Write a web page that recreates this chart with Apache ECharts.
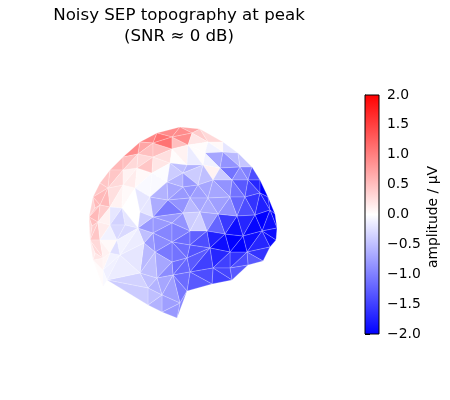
<!DOCTYPE html>
<html>
<head>
<meta charset="utf-8">
<style>html,body{margin:0;padding:0;background:#fff}#chart{width:450px;height:400px}</style>
<script src="https://cdn.jsdelivr.net/npm/echarts@6/dist/echarts.min.js"></script>
</head>
<body>
<div id="chart"></div>
<script>
// Projected head-surface mesh: vertex positions in view units
const vertexX = [89,93,100,110,123,140,157,180,200,223,238,252,260,268,275,277,276,270,263,248,232,212,187,177,162,148,107,103,93,90,
 100,98,100,103,108,123,138,153,172,192,208,110,123,137,153,172,188,205,223,240,248,260,270,
 122,135,152,170,187,203,220,232,245,255,262,110,125,150,167,183,198,213,230,237,243,247,
 117,138,140,168,183,190,208,200,218,183,153,153,190,207,225,172,144,155,120,110,103,140,148,157,172,187,173,162,180,190,210,230,213,230,190,
 172,95,92,95];
const vertexY = [217,197,183,170,157,142,133,127,129,142,153,167,180,197,214,228,240,247,261,265,280,284,291,318,312,305,280,287,260,240,
 205,222,240,258,188,170,154,143,137,133,142,207,185,168,157,149,145,153,152,167,180,193,210,
 208,188,173,163,165,165,168,180,197,215,231,225,225,197,182,173,185,180,197,216,236,252,
 240,228,212,200,187,198,198,212,214,213,217,233,231,231,234,242,243,252,255,253,270,273,288,278,262,258,275,295,303,245,248,252,268,268,272,
 223,208,226,253];

// Triangles of the mesh, as vertex index triples
const faces = [
 [0,1,111],[1,2,34],[1,34,30],[2,3,34],[3,4,35],[3,35,34],[4,5,36],[4,36,35],[5,6,37],[5,37,36],
 [6,7,38],[6,38,37],[7,8,39],[7,39,38],[8,40,39],[8,9,40],[9,48,40],[9,10,48],[10,49,48],[10,11,49],
 [11,50,49],[11,12,50],[12,51,50],[12,13,51],[13,52,51],[13,14,52],[14,15,52],[15,63,52],[15,16,63],[16,17,63],
 [34,41,30],[34,42,41],[34,35,42],[35,43,42],[35,36,43],[36,44,43],[36,37,44],[37,45,44],[37,38,45],[38,46,45],
 [38,39,46],[39,40,46],[46,40,47],[40,48,47],[47,48,59],[47,59,58],[48,49,59],[49,60,59],[49,50,60],[50,61,60],
 [50,51,61],[51,62,61],[51,52,62],[52,63,62],[41,42,53],[42,54,53],[42,43,54],[43,55,54],[43,44,55],[44,56,55],
 [44,45,56],[45,57,56],[45,46,57],[46,47,58],[46,58,57],[58,70,59],[59,60,70],[54,55,66],[55,67,66],[55,56,67],
 [56,68,67],[56,57,68],[57,58,68],[58,69,68],[58,70,69],[53,54,77],[54,66,77],[53,77,76],[53,76,65],[66,85,77],
 [66,78,85],[66,67,78],[67,79,78],[67,68,79],[68,69,79],[79,69,80],[79,80,78],[69,70,81],[69,81,80],[70,71,81],
 [70,60,71],[60,61,71],[61,72,71],[61,62,72],[62,73,72],[62,63,73],[63,74,73],[63,17,74],[17,18,74],[18,19,74],
 [74,19,108],[19,20,108],[74,108,106],[73,74,106],[73,106,89],[72,73,89],[72,89,83],[71,72,83],[71,83,81],[81,83,82],
 [80,81,82],[80,82,84],[78,80,84],[78,84,85],[84,82,87],[82,88,87],[82,83,88],[83,89,88],[85,84,110],[85,110,86],
 [110,90,86],[87,104,90],[87,88,104],[88,105,104],[88,89,105],[89,106,105],[105,106,107],[106,108,107],[107,108,20],[107,20,21],
 [104,105,100],[105,109,100],[105,107,109],[107,21,109],[21,22,109],[90,104,100],[90,100,99],[99,100,101],[100,109,101],[101,109,22],
 [92,90,99],[86,90,92],[86,92,91],[76,86,91],[76,85,86],[77,85,76],[92,99,98],[99,101,98],[98,101,102],[101,22,103],
 [101,103,102],[22,23,103],[103,23,24],[102,103,24],[102,24,25],[98,102,97],[97,102,25],[96,98,97],[96,92,98],[91,92,96],
 [93,91,96],[93,76,91],[26,96,97],[26,97,25],[94,93,95],[93,26,95],[93,96,26],[27,95,26],[28,95,27],[28,33,95],
 [33,94,95],[0,30,31],[30,41,31],[31,41,64],[41,53,64],[0,31,112],[29,31,32],[31,64,32],[32,64,75],[29,32,33],
 [29,33,113],[32,75,94],[32,94,33],[64,53,65],[64,65,75],[65,76,75],[75,76,93],[75,93,94],
 [110,84,87],[110,87,90],[1,30,111],[0,111,30],[31,29,112],[0,112,29],[33,28,113],[29,113,28]
];
// Amplitude of each triangle in µV
const faceValues = [
 0.35,0.45,0.55,0.45,0.55,0.45,0.9,0.5,0.95,0.7,
 0.9,1.1,0.7,0.9,0.4,0.3,0.05,-0.2,-0.55,-0.45,
 -1.0,-1.4,-1.7,-2,-1.8,-2,-2,-1.9,-1.9,-1.9,
 0.55,0.25,0.3,0.1,0.3,0.3,0.5,0.5,1.1,0.5,
 0.9,0.2,0.02,-0.1,-0.7,-0.1,-0.85,-1.1,-0.9,-1.3,
 -1.45,-1.6,-1.75,-2,0.1,0.05,0.15,0.05,0.45,0.2,
 0.25,0.02,0.1,0.02,-0.15,0.1,-0.4,-0.05,-0.05,-0.02,
 -0.4,-0.5,-0.6,-0.4,-0.5,0,-0.2,0,-0.2,-0.2,
 -0.65,-0.6,-0.7,-0.6,-0.8,-0.85,-0.8,-0.7,-0.75,-0.7,
 -0.85,-1.1,-1.2,-1.4,-1.7,-1.95,-1.9,-1.7,-1.6,-1.3,
 -1.4,-1.3,-1.6,-2,-2,-1.9,-1.55,-0.85,-0.75,-0.65,
 -0.7,-0.55,-0.85,-1.05,-0.4,-0.35,-0.75,-1.2,-0.8,-0.8,
 -0.95,-1.15,-1.25,-1.4,-1.75,-1.9,-1.7,-1.5,-1.45,-1.5,
 -1.35,-1.3,-1.5,-1.4,-1.3,-1.15,-1.1,-1.15,-1.2,-1.15,
 -1.05,-0.9,-0.8,-0.5,-0.8,-0.4,-0.7,-0.9,-0.7,-1.05,
 -0.75,-0.95,-0.8,-0.75,-0.6,-0.6,-0.5,-0.5,-0.5,-0.55,
 -0.2,-0.15,-0.35,-0.4,-0.1,-0.12,-0.15,-0.05,0.03,0.1,
 0.08,0.55,0.4,0.1,-0.2,0.5,0.45,0.15,-0.1,0.3,
 0.3,0.05,0.1,-0.35,-0.3,-0.3,-0.1,-0.25,
 -0.85,-1.0,0.55,0.45,0.4,0.3,0.2,0.15
];

const titleLines = ['Noisy SEP topography at peak', '(SNR ≈ 0 dB)'];
const colorbarLabel = 'amplitude / µV';
const colorRange = [-2, 2];
const colorTickStep = 0.5;

// Blue-white-red map over the colour range
function bwr(v) {
  const t = Math.max(-1, Math.min(1, v / colorRange[1]));
  const fade = Math.round(255 * (1 - Math.abs(t)));
  return t >= 0 ? `rgb(255,${fade},${fade})` : `rgb(${fade},${fade},255)`;
}

const chart = echarts.init(document.getElementById('chart'), null, { renderer: 'canvas' });
const font = 'DejaVu Sans';

chart.setOption({
  animation: false,
  backgroundColor: '#fff',
  title: {
    text: titleLines.join('\n'),
    left: 174, top: 0, textAlign: 'center',
    textStyle: { fontFamily: font, fontWeight: 'normal', fontSize: 16.67, lineHeight: 21, color: '#000' }
  },
  grid: [
    { left: 0, top: 0, width: 450, height: 400, show: false },
    { left: 365, top: 95, width: 14, height: 239, show: false }
  ],
  xAxis: [
    { gridIndex: 0, type: 'value', min: 0, max: 450, show: false },
    { gridIndex: 1, type: 'value', min: 0, max: 1, show: false }
  ],
  yAxis: [
    { gridIndex: 0, type: 'value', min: 0, max: 400, inverse: true, show: false },
    {
      gridIndex: 1, type: 'value', position: 'right',
      min: colorRange[0], max: colorRange[1], interval: colorTickStep,
      splitLine: { show: false },
      axisLine: { show: true, lineStyle: { color: '#000', width: 1 } },
      axisTick: { show: true, inside: false, length: 5, lineStyle: { color: '#000', width: 1 } },
      axisLabel: {
        fontFamily: font, fontSize: 13.9, color: '#000', margin: 8, padding: [6, 0, 0, 0],
        formatter: v => v.toFixed(1).replace('-', '\u2212')
      },
      name: colorbarLabel, nameLocation: 'middle', nameRotate: 90, nameGap: 47,
      nameTextStyle: { fontFamily: font, fontSize: 13.9, color: '#000', padding: [0, 5, 0, 0] }
    }
  ],
  series: [
    {
      type: 'custom', xAxisIndex: 0, yAxisIndex: 0, silent: true, clip: false,
      data: faceValues.map((v, i) => [i, v]),
      renderItem(params, api) {
        const f = faces[api.value(0)];
        const pts = f.map(k => api.coord([vertexX[k], vertexY[k]]));
        return {
          type: 'polygon',
          shape: { points: pts },
          style: { fill: bwr(api.value(1)), stroke: 'rgba(255,255,255,0.35)', lineWidth: 0.6 }
        };
      }
    },
    {
      type: 'custom', xAxisIndex: 1, yAxisIndex: 1, silent: true, clip: false, z: 3,
      data: [[0, colorRange[0], 1, colorRange[1]]],
      renderItem(params, api) {
        const a = api.coord([api.value(0), api.value(3)]);
        const b = api.coord([api.value(2), api.value(1)]);
        return {
          type: 'rect',
          shape: { x: a[0], y: a[1], width: b[0] - a[0], height: b[1] - a[1] },
          style: {
            stroke: '#000', lineWidth: 1,
            fill: new echarts.graphic.LinearGradient(0, 0, 0, 1, [
              { offset: 0, color: bwr(colorRange[1]) },
              { offset: 0.5, color: bwr(0) },
              { offset: 1, color: bwr(colorRange[0]) }
            ])
          }
        };
      }
    }
  ]
});
</script>
</body>
</html>
